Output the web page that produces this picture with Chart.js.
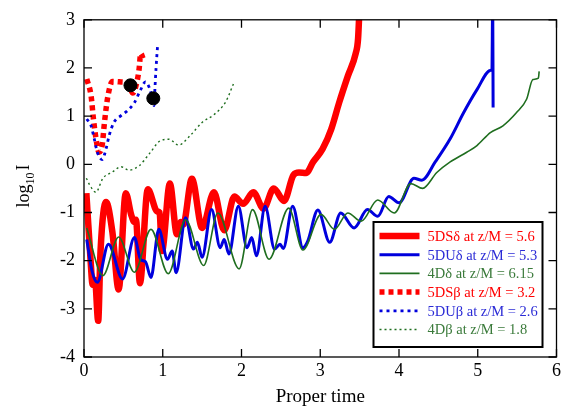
<!DOCTYPE html>
<html>
<head>
<meta charset="utf-8">
<script src="https://cdn.jsdelivr.net/npm/chart.js@4/dist/chart.umd.min.js"></script>
<style>
  html, body { margin: 0; padding: 0; background: #fff; }
  canvas { display: block; }
</style>
</head>
<body>
<canvas id="chart" width="564" height="410"></canvas>
<script>
// ---- data ----
const xTicks = [0, 1, 2, 3, 4, 5, 6];
const yTicks = [-4, -3, -2, -1, 0, 1, 2, 3];

const labels = ['5DS\u03b4 at z/M = 5.6', '5DU\u03b4 at z/M = 5.3', '4D\u03b4 at z/M = 6.15',
                '5DS\u03b2 at z/M = 3.2', '5DU\u03b2 at z/M = 2.6', '4D\u03b2 at z/M = 1.8'];

// 5DS delta (thick red)
const t5DSd = [0.03, 0.08, 0.11, 0.14, 0.18, 0.21, 0.28, 0.36, 0.44, 0.53, 0.60, 0.64, 0.66, 0.71, 0.81, 0.93, 0.96, 0.99,
               1.09, 1.18, 1.23, 1.26, 1.37, 1.50, 1.65, 1.78, 1.91, 2.02, 2.15, 2.28, 2.41, 2.54, 2.66, 2.73, 2.82, 2.91,
               3.03, 3.14, 3.24, 3.35, 3.45, 3.48, 3.50];
const v5DSd = [-0.60, -1.90, -2.50, -2.40, -3.25, -1.80, -0.78, -1.40, -2.60, -0.60, -1.05, -1.20, -1.15, -2.47, -0.52, -0.98, -1.00, -1.80,
               -0.40, -1.45, -1.20, -1.25, -0.30, -1.32, -0.58, -1.37, -0.67, -0.82, -0.58, -0.92, -0.50, -0.76, -0.22, -0.17, -0.18, 0.05,
               0.32, 0.73, 1.28, 1.83, 2.30, 2.60, 3.30];

// 5DU delta (blue)
const t5DUd = [0.035, 0.10, 0.17, 0.31, 0.49, 0.64, 0.72, 0.78, 0.85, 0.95, 1.06, 1.12, 1.17, 1.29, 1.39, 1.44, 1.50,
               1.62, 1.73, 1.78, 1.84, 1.96, 2.07, 2.13, 2.19, 2.30, 2.42, 2.49, 2.53, 2.65, 2.78, 2.84, 2.97,
               3.12, 3.26, 3.43, 3.60, 3.73, 3.87, 4.00, 4.19, 4.29, 4.46, 4.65, 4.82, 4.99, 5.16, 5.18, 5.19, 5.195];
const v5DUd = [-1.56, -2.20, -2.45, -1.66, -2.38, -1.52, -1.98, -2.02, -2.35, -1.35, -1.97, -1.80, -2.25, -1.11, -1.76, -1.62, -1.93,
               -0.94, -1.73, -1.56, -1.86, -0.87, -1.73, -1.52, -1.90, -0.87, -1.76, -1.66, -1.75, -0.87, -1.73, -1.60, -0.95,
               -1.62, -1.01, -1.32, -0.94, -1.08, -0.67, -0.80, -0.29, -0.33, 0.05, 0.53, 1.07, 1.55, 1.95, 1.98, 3.40, 1.18];

// 4D delta (thin green)
const t4Dd = [0.035, 0.24, 0.44, 0.64, 0.85, 1.07, 1.29, 1.52, 1.70, 1.97, 2.14, 2.35, 2.60, 2.78,
              3.01, 3.18, 3.35, 3.52, 3.73, 3.94, 4.15, 4.30, 4.48, 4.65, 4.86, 4.99, 5.16, 5.32, 5.49, 5.62, 5.70, 5.77, 5.78];
const v4Dd = [-1.32, -2.31, -1.51, -2.24, -1.35, -2.27, -1.15, -2.10, -1.01, -2.17, -0.94, -1.97, -0.91, -1.78,
              -1.04, -1.35, -1.01, -1.18, -0.74, -1.01, -0.40, -0.50, -0.17, 0.05, 0.25, 0.39, 0.66, 0.80, 1.07, 1.35, 1.76, 1.79, 1.93];

// 5DS beta (red squares)
const t5DSb = [0.035, 0.09, 0.12, 0.15, 0.19, 0.23, 0.26, 0.30, 0.36, 0.47, 0.56, 0.62, 0.66, 0.70, 0.72, 0.75];
const v5DSb = [1.77, 1.42, 0.94, 0.56, 0.25, 0.39, 0.87, 1.38, 1.72, 1.71, 1.68, 1.48, 1.63, 1.98, 2.30, 2.20];

// 5DU beta (blue dashes)
const t5DUb = [0.035, 0.09, 0.13, 0.17, 0.23, 0.28, 0.32, 0.38, 0.47, 0.55, 0.64, 0.72, 0.78, 0.83, 0.87, 0.89, 0.90, 0.915, 0.935];
const v5DUb = [0.94, 0.80, 0.53, 0.25, 0.10, 0.32, 0.60, 0.87, 1.01, 1.11, 1.28, 1.55, 1.71, 1.59, 1.35, 1.22, 1.55, 2.00, 2.48];

// 4D beta (green dots)
const t4Db = [0.03, 0.08, 0.15, 0.24, 0.36, 0.47, 0.57, 0.70, 0.83, 0.97, 1.08, 1.20, 1.35, 1.50, 1.65, 1.80, 1.90];
const v4Db = [-0.29, -0.45, -0.58, -0.29, -0.16, -0.05, -0.12, -0.03, 0.22, 0.49, 0.52, 0.40, 0.60, 0.87, 1.03, 1.30, 1.68];

// black markers
const tDots = [0.59, 0.88];
const vDots = [1.64, 1.37];

const RED = '#ff0000', BLUE = '#0000dd', GREEN = '#1f6e1f';
const SERIF = 'Liberation Serif, Times New Roman, serif';

function pts(t, v) { return t.map((x, i) => ({ x: x, y: v[i] })); }

// inward ticks and frame box
const frame = {
    id: 'frame',
    afterDraw(chart) {
        const ctx = chart.ctx, a = chart.chartArea;
        const sx = chart.scales.x, sy = chart.scales.y;
        ctx.save();
        ctx.strokeStyle = '#000';
        ctx.lineWidth = 1.3;
        ctx.strokeRect(a.left, a.top, a.right - a.left, a.bottom - a.top);
        ctx.beginPath();
        xTicks.forEach(v => {
            const px = sx.getPixelForValue(v);
            ctx.moveTo(px, a.bottom); ctx.lineTo(px, a.bottom - 8);
            ctx.moveTo(px, a.top); ctx.lineTo(px, a.top + 8);
        });
        yTicks.forEach(v => {
            const py = sy.getPixelForValue(v);
            ctx.moveTo(a.left, py); ctx.lineTo(a.left + 8, py);
            ctx.moveTo(a.right, py); ctx.lineTo(a.right - 8, py);
        });
        ctx.stroke();

        // y axis title with subscript
        ctx.translate(29, 186);
        ctx.rotate(-Math.PI / 2);
        ctx.fillStyle = '#000';
        ctx.textBaseline = 'alphabetic';
        ctx.font = '18px ' + SERIF;
        const w1 = ctx.measureText('log').width;
        const w3 = ctx.measureText('I').width;
        ctx.font = '12px ' + SERIF;
        const w2 = ctx.measureText('10').width;
        const start = -(w1 + w2 + 2 + w3) / 2;
        ctx.font = '18px ' + SERIF;
        ctx.fillText('log', start, 0);
        ctx.font = '12px ' + SERIF;
        ctx.fillText('10', start + w1, 5);
        ctx.font = '18px ' + SERIF;
        ctx.fillText('I', start + w1 + w2 + 2, 0);
        ctx.restore();
    }
};

// boxed legend inside the lower right corner
const legendBox = {
    id: 'legendBox',
    afterDraw(chart) {
        const ctx = chart.ctx, a = chart.chartArea;
        const left = a.right - 183, top = a.bottom - 135;
        ctx.save();
        ctx.fillStyle = '#fff';
        ctx.fillRect(left, top, 169, 125);
        ctx.strokeStyle = '#000';
        ctx.lineWidth = 2;
        ctx.strokeRect(left, top, 169, 125);
        ctx.font = '14.5px ' + SERIF;
        ctx.textBaseline = 'middle';
        chart.data.datasets.filter(d => d.label).forEach((d, i) => {
            const y = top + 14 + i * 18.7;
            ctx.beginPath();
            ctx.strokeStyle = d.borderColor;
            ctx.lineWidth = d.borderWidth;
            ctx.setLineDash(d.borderDash || []);
            ctx.moveTo(left + 6, y);
            ctx.lineTo(left + 46, y);
            ctx.stroke();
            ctx.setLineDash([]);
            ctx.fillStyle = d.textColor;
            ctx.fillText(d.label, left + 54, y + 1);
        });
        ctx.restore();
    }
};

new Chart(document.getElementById('chart'), {
    type: 'line',
    data: {
        datasets: [
            { label: labels[0], data: pts(t5DSd, v5DSd), borderColor: RED, textColor: RED, borderWidth: 6.5, order: 6 },
            { label: labels[1], data: pts(t5DUd, v5DUd), borderColor: BLUE, textColor: '#2b2bd6', borderWidth: 3, order: 5 },
            { label: labels[2], data: pts(t4Dd, v4Dd), borderColor: GREEN, textColor: '#3a7a3a', borderWidth: 1.6, order: 4 },
            { label: labels[3], data: pts(t5DSb, v5DSb), borderColor: RED, textColor: RED, borderWidth: 5.5, borderDash: [5, 4], order: 3 },
            { label: labels[4], data: pts(t5DUb, v5DUb), borderColor: BLUE, textColor: '#2b2bd6', borderWidth: 2.8, borderDash: [3, 4], order: 2 },
            { label: labels[5], data: pts(t4Db, v4Db), borderColor: GREEN, textColor: '#3a7a3a', borderWidth: 1.4, borderDash: [2, 3], order: 1 },
            { type: 'scatter', data: pts(tDots, vDots), backgroundColor: '#000', borderColor: '#000',
              pointRadius: 6.5, showLine: false, order: 0 }
        ]
    },
    options: {
        responsive: false,
        animation: false,
        devicePixelRatio: 1,
        layout: { padding: { left: 0, right: 2, top: 16, bottom: 0 } },
        elements: {
            line: { cubicInterpolationMode: 'monotone', fill: false, borderJoinStyle: 'round' },
            point: { radius: 0 }
        },
        plugins: { legend: { display: false }, tooltip: { enabled: false } },
        scales: {
            x: {
                type: 'linear', min: 0, max: 6,
                afterFit(s) { s.height = 53; },
                ticks: { stepSize: 1, color: '#000', padding: 3, maxRotation: 0, font: { family: SERIF, size: 18 } },
                grid: { display: false, drawTicks: false },
                border: { display: false },
                title: { display: true, text: 'Proper time', color: '#000',
                         font: { family: SERIF, size: 19 }, padding: { top: 0, bottom: 2 } }
            },
            y: {
                min: -4, max: 3,
                afterFit(s) { s.width = 84; },
                ticks: { stepSize: 1, color: '#000', padding: 9, font: { family: SERIF, size: 18 } },
                grid: { display: false, drawTicks: false },
                border: { display: false }
            }
        }
    },
    plugins: [frame, legendBox]
});
</script>
</body>
</html>
